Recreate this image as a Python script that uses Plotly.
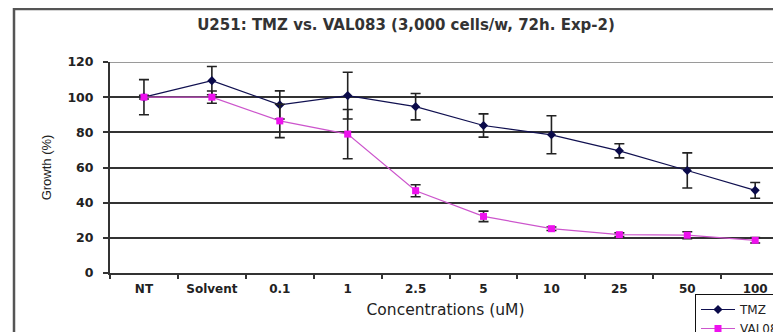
import plotly.graph_objects as go

categories = ["NT", "Solvent", "0.1", "1", "2.5", "5", "10", "25", "50", "100"]
tmz_values = [100, 109.4, 95.6, 100.9, 94.6, 83.9, 78.6, 69.5, 58.3, 47.0]
tmz_errors = [10, 8, 8, 13.3, 7.5, 6.6, 10.8, 4, 10, 4.5]
val_values = [100, 100, 86.5, 79.0, 46.8, 32.2, 25.2, 21.8, 21.5, 18.6]
val_errors = [1, 3.5, 9.5, 14, 3.4, 3, 1, 1, 2, 1.5]
y_ticks = [0, 20, 40, 60, 80, 100, 120]

# page body has an 8px margin; work in screen pixels and subtract it
OFF = 8
W, H = 781 - OFF, 332 - OFF
PL, PT, PB = 110, 62, 273          # plot area in screen pixels
L, R, T, B = PL - OFF, 0, PT - OFF, H - (PB - OFF)
pw, ph = W - L - R, H - T - B

def px_x(p):
    return (p - OFF - L) / pw

def px_y(p):
    return (H - B - (p - OFF)) / ph

fig = go.Figure()
fig.add_trace(go.Scatter(
    x=categories, y=tmz_values, name="TMZ", mode="lines+markers",
    line=dict(color="#101050", width=1.2),
    marker=dict(symbol="diamond", size=7, color="#0a0a4a"),
    error_y=dict(type="data", array=tmz_errors, color="#222222", thickness=1.6, width=5),
))
fig.add_trace(go.Scatter(
    x=categories, y=val_values, name="VAL083", mode="lines+markers",
    line=dict(color="#cc55cc", width=1.2),
    marker=dict(symbol="square", size=7, color="#ee11ee"),
    error_y=dict(type="data", array=val_errors, color="#222222", thickness=1.6, width=5),
))

fig.update_layout(
    width=W, height=H,
    margin=dict(l=L, r=R, t=T, b=B, autoexpand=False),
    paper_bgcolor="white", plot_bgcolor="white",
    font=dict(family="DejaVu Sans", color="#222222"),
    title=dict(text="U251: TMZ vs. VAL083 (3,000 cells/w, 72h. Exp-2)",
               x=(406 - OFF) / W, xanchor="center", y=1 - (25 - OFF) / H, yanchor="middle",
               font=dict(size=15, family="DejaVu Sans", color="#333333", weight="bold")),
    showlegend=True,
    legend=dict(x=px_x(695), y=px_y(294), xanchor="left", yanchor="top",
                bgcolor="white", bordercolor="#111111", borderwidth=1,
                font=dict(size=12, family="DejaVu Sans", color="#222222"),
                tracegroupgap=0, itemwidth=34),
    xaxis=dict(
        type="category", range=[-0.5, 9.38], showgrid=False,
        showline=True, linecolor="#333333", linewidth=2,
        ticks="outside", tickson="boundaries", ticklen=4, tickwidth=2, tickcolor="#333333",
        tickfont=dict(size=12, family="DejaVu Sans", color="#222222", weight="bold"),
        ticklabelstandoff=4,
        title=dict(text="Concentrations (uM)",
                   font=dict(size=15.5, family="DejaVu Sans", color="#222222"),
                   standoff=9),
    ),
    yaxis=dict(
        range=[0, 120], tickvals=y_ticks, showgrid=True, gridcolor="#333333", gridwidth=1.6,
        showline=True, linecolor="#333333", linewidth=2, zeroline=False,
        ticks="outside", ticklen=5, tickwidth=1.5, tickcolor="#333333",
        tickfont=dict(size=12.5, family="DejaVu Sans", color="#222222", weight="bold"),
        ticklabelstandoff=7,
        title=dict(text="Growth (%)", font=dict(size=13, family="Liberation Sans", color="#222222"),
                   standoff=13),
    ),
)

# top gridline lighter (plot area edge)
fig.add_shape(type="line", xref="paper", yref="y", x0=0, x1=1, y0=120, y1=120,
              line=dict(color="#9a9a9a", width=2), layer="above")
# outer chart frame
fig.add_shape(type="rect", xref="paper", yref="paper",
              x0=px_x(14), x1=1.3, y0=1 + (T - 1) / ph, y1=-0.6,
              line=dict(color="#555555", width=2.5), layer="above")

fig.write_html("out.html")
